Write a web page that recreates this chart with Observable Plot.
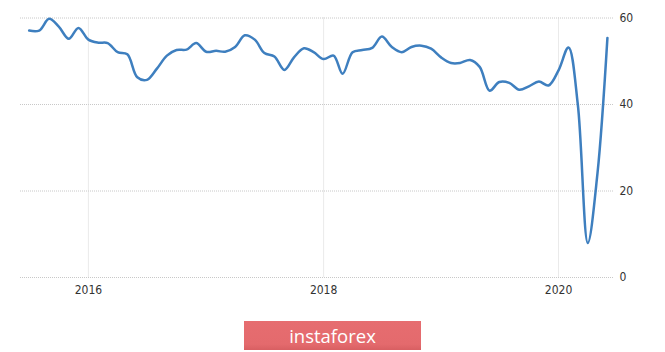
<!DOCTYPE html>
<html>
<head>
<meta charset="utf-8">
<script src="https://cdn.jsdelivr.net/npm/d3@7"></script>
<script src="https://cdn.jsdelivr.net/npm/@observablehq/plot@0.6"></script>
<style>
  html, body { margin: 0; padding: 0; background: #fff; }
  #wrap { position: relative; width: 665px; height: 352px; overflow: hidden; }
  #chart { position: absolute; left: 0; top: 0; }
  #wm {
    position: absolute; left: 244px; top: 321px; width: 177px; height: 29px;
    background: linear-gradient(#e66d70 0%, #e46a6d 80%, #d85f62 100%);
    color: #fff; font-family: "Open Sans", sans-serif; font-size: 18.5px;
    line-height: 29px; text-align: center;
  }
</style>
</head>
<body>
<div id="wrap">
  <div id="chart"></div>
  <div id="wm">instaforex</div>
</div>
<script>
// Monthly observations, Jul 2015 – Jun 2020
const months = [
  "2015-07","2015-08","2015-09","2015-10","2015-11","2015-12",
  "2016-01","2016-02","2016-03","2016-04","2016-05","2016-06","2016-07","2016-08","2016-09","2016-10","2016-11","2016-12",
  "2017-01","2017-02","2017-03","2017-04","2017-05","2017-06","2017-07","2017-08","2017-09","2017-10","2017-11","2017-12",
  "2018-01","2018-02","2018-03","2018-04","2018-05","2018-06","2018-07","2018-08","2018-09","2018-10","2018-11","2018-12",
  "2019-01","2019-02","2019-03","2019-04","2019-05","2019-06","2019-07","2019-08","2019-09","2019-10","2019-11","2019-12",
  "2020-01","2020-02","2020-03","2020-04","2020-05","2020-06"
];
const values = [
  57.1, 57.1, 59.8, 58.0, 55.2, 57.7,
  55.0, 54.3, 54.2, 52.1, 51.6, 46.3, 45.7, 48.3, 51.3, 52.6, 52.7, 54.2,
  52.2, 52.4, 52.2, 53.3, 56.0, 55.0, 51.9, 51.1, 48.0, 50.9, 53.0, 52.1,
  50.5, 51.3, 47.1, 52.1, 52.6, 53.1, 55.7, 53.3, 52.1, 53.3, 53.6, 52.9,
  50.9, 49.6, 49.6, 50.3, 48.7, 43.2, 45.2, 45.0, 43.4, 44.2, 45.3, 44.4,
  47.9, 53.2, 40.0, 8.0, 24.0, 55.4
];
const xTickLabels = ["2016", "2018", "2020"];
const yTicks = [0, 20, 40, 60];
const xDomain = ["2015-06-04", "2020-06-23"];

const data = months.map((m, i) => ({date: new Date(m + "-01T00:00:00Z"), value: values[i]}));
const xTicks = xTickLabels.map(y => new Date(y + "-01-01T00:00:00Z"));

const chart = Plot.plot({
  width: 665,
  height: 305,
  marginLeft: 20,
  marginRight: 51,
  marginTop: 17.5,
  marginBottom: 28,
  style: {fontFamily: "'Liberation Sans Narrow', 'DejaVu Sans Condensed', sans-serif", fontSize: "12px", color: "#333", background: "transparent"},
  x: {type: "utc", domain: xDomain.map(d => new Date(d + "T00:00:00Z"))},
  y: {domain: [0, 60]},
  marks: [
    Plot.ruleY(yTicks, {stroke: "#c8c8c8", strokeDasharray: "1,1", strokeWidth: 1}),
    Plot.ruleX(xTicks, {stroke: "#d4d4d4", strokeDasharray: "1,1", strokeWidth: 1}),
    Plot.axisY({anchor: "right", ticks: yTicks, tickSize: 0, tickPadding: 5, label: null}),
    Plot.axisX({ticks: xTicks, tickFormat: d3.utcFormat("%Y"), tickSize: 0, tickPadding: 8, label: null}),
    Plot.line(data, {x: "date", y: "value", stroke: "#3e7fbf", strokeWidth: 2.5, curve: "catmull-rom"})
  ]
});
document.getElementById("chart").appendChild(chart);
</script>
</body>
</html>
